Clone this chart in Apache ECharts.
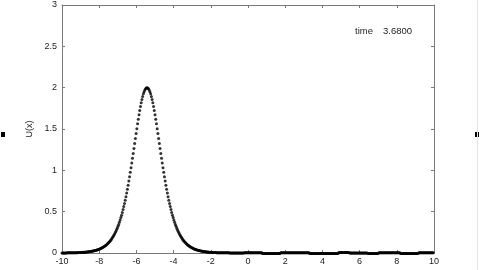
<!DOCTYPE html>
<html>
<head>
<meta charset="utf-8">
<script src="https://cdn.jsdelivr.net/npm/echarts@6/dist/echarts.min.js"></script>
<style>
html,body{margin:0;padding:0;background:#fff;}
#c{width:480px;height:270px;}
</style>
</head>
<body>
<div id="c"></div>
<script>
// x grid: 512 samples from -10 (step 20/512), like MATLAB linspace output
const xStart = -10;
const xStep = 20 / 512;

// values: left tail + rising flank
const leftFlank = [
0.001,0.001,0.001,0.001,0.001,0.001,0.001,
0.002,0.002,0.002,0.002,0.002,0.002,0.002,
0.003,0.003,0.003,0.003,0.003,
0.004,0.004,0.004,
0.005,0.005,
0.006,0.006,
0.007,0.007,
0.008,0.008,
0.009,
0.010,0.010,
0.011,0.012,0.013,0.014,0.015,0.017,0.018,0.019,0.021,0.023,
0.025,0.027,0.029,0.031,0.033,0.036,0.039,0.042,0.046,0.049,
0.053,0.057,0.062,0.067,0.072,0.078,0.084,0.091,0.098,0.106,
0.114,0.123,0.133,0.143,0.155,0.167,0.180,0.193,0.208,0.224,
0.241,0.260,0.279,0.300,0.323,0.346,0.372,0.399,0.428,0.458,
0.490,0.525,0.561,0.599,0.639,0.681,0.726,0.772,0.820,0.870,
0.922,0.976,1.031,1.088,1.146,1.205,1.265,1.325,1.385,1.445,
1.504,1.562,1.618,1.672,1.723,1.772,1.817,1.858,1.894,1.926,
1.952,1.973,1.988,1.997
];
const peak = [2.000];
const rightFlank = [
1.997,1.988,1.973,1.952,1.926,1.894,1.858,1.817,1.772,1.723,
1.672,1.618,1.562,1.504,1.445,1.385,1.325,1.265,1.205,1.146,
1.088,1.031,0.976,0.922,0.870,0.820,0.772,0.726,0.681,0.639,
0.599,0.561,0.525,0.490,0.458,0.428,0.399,0.372,0.346,0.323,
0.300,0.279,0.260,0.241,0.224,0.208,0.193,0.180,0.167,0.155,
0.143,0.133,0.123,0.114,0.106,0.098,0.091,0.084,0.078,0.072,
0.067,0.062,0.057,0.053,0.049,0.046,0.042,0.039,0.036,0.033,
0.031,0.029,0.027,0.025,0.023,0.021,0.019,0.018,0.017,0.015,
0.014,0.013,0.012,0.011,0.010,0.010,0.009,0.008,0.008,0.007,
0.007,0.006,0.006,0.005,0.005,0.004,0.004,0.004,0.003,0.003
];
// small ripple along the baseline to the right
const rightTail = [
0.002,0.002,0.002,0.002,0.002,0.002,0.002,0.002,0.002,0.002,0.002,0.002,0.002,
0.001,0.001,0.001,0.001,0.001,0.001,0.001,0.001,0.001,0.001,
0.001,0.001,0.001,0.001,0.001,0.001,0.001,0.001,0.001,0.001,
0.002,0.002,0.002,0.002,0.002,0.002,0.002,0.002,0.002,0.002,0.002,0.002,0.002,
0.002,0.002,0.002,0.002,0.002,0.002,0.002,0.002,0.002,0.002,0.002,0.002,
-0.006,-0.006,-0.006,-0.006,-0.006,-0.006,-0.006,-0.006,-0.006,-0.006,-0.006,-0.006,-0.006,
-0.006,-0.006,-0.006,-0.006,-0.006,-0.006,-0.006,-0.006,-0.006,-0.006,-0.006,-0.006,
0.003,0.003,0.003,0.003,0.003,0.003,0.003,0.003,0.003,0.003,
0.003,0.003,0.003,0.003,0.003,0.003,0.003,0.003,0.003,0.003,
0.003,0.003,0.003,0.003,0.003,0.003,0.003,0.003,0.003,0.003,
0.003,0.003,0.003,0.003,0.003,0.003,0.003,0.003,0.003,0.003,
-0.005,-0.005,-0.005,-0.005,-0.005,-0.005,-0.005,-0.005,-0.005,-0.005,
-0.005,-0.005,-0.005,-0.005,-0.005,-0.005,-0.005,-0.005,-0.005,-0.005,
-0.005,-0.005,-0.005,-0.005,-0.005,-0.005,-0.005,-0.005,-0.005,-0.005,
-0.005,-0.005,-0.005,-0.005,-0.005,-0.005,-0.005,-0.005,-0.005,-0.005,
0.005,0.005,0.005,0.005,0.005,0.005,0.005,0.005,0.005,0.005,0.005,0.005,0.005,0.005,0.005,
0.001,0.001,0.001,0.001,0.001,0.001,0.001,0.001,0.001,0.001,0.001,0.001,0.001,
0.001,0.001,0.001,0.001,0.001,0.001,0.001,0.001,0.001,0.001,0.001,0.001,
-0.006,-0.006,-0.006,-0.006,-0.006,-0.006,-0.006,-0.006,-0.006,-0.006,-0.006,-0.006,-0.006,-0.006,-0.006,
0.003,0.003,0.003,0.003,0.003,0.003,0.003,0.003,0.003,0.003,
0.003,0.003,0.003,0.003,0.003,0.003,0.003,0.003,0.003,0.003,
0.003,0.003,0.003,0.003,0.003,0.003,0.003,0.003,0.003,0.003,
-0.005,-0.005,-0.005,-0.005,-0.005,-0.005,-0.005,-0.005,-0.005,-0.005,-0.005,-0.005,-0.005,
-0.005,-0.005,-0.005,-0.005,-0.005,-0.005,-0.005,-0.005,-0.005,-0.005,-0.005,-0.005,
0.003,0.003,0.003,0.003,0.003,0.003,0.003,0.003,0.003,0.003,0.003,
0.003,0.003,0.003,0.003,0.003,0.003,0.003,0.003,0.003,0.003
];

const xTicks = [-10,-8,-6,-4,-2,0,2,4,6,8,10];
const yTicks = [0,0.5,1,1.5,2,2.5,3];
const timeLabel = 'time';
const timeValue = '3.6800';
const yName = 'U(x)';

const uValues = leftFlank.concat(peak, rightFlank, rightTail);
const points = uValues.map((u, i) => [xStart + i * xStep, u]);

const chart = echarts.init(document.getElementById('c'), null, {renderer: 'canvas'});
const axisColor = '#7a7a7a';
const fontFam = 'Liberation Sans, Arial, sans-serif';
const labelFont = {color: '#222', fontSize: 9, fontFamily: fontFam};

chart.setOption({
  animation: false,
  backgroundColor: '#fff',
  grid: {left: 62, right: 46, top: 5, bottom: 17, containLabel: false},
  xAxis: [
    {type: 'value', min: -10, max: 10, interval: 2, position: 'bottom',
     axisLine: {show: true, onZero: false, lineStyle: {color: axisColor, width: 1}},
     axisTick: {show: true, inside: true, length: 3, lineStyle: {color: axisColor}},
     axisLabel: Object.assign({margin: 4, formatter: v => xTicks.includes(v) ? String(v) : ''}, labelFont),
     splitLine: {show: false}},
    {type: 'value', min: -10, max: 10, interval: 2, position: 'top',
     axisLine: {show: true, onZero: false, lineStyle: {color: axisColor, width: 1}},
     axisTick: {show: true, inside: true, length: 3, lineStyle: {color: axisColor}},
     axisLabel: {show: false}, splitLine: {show: false}}
  ],
  yAxis: [
    {type: 'value', min: 0, max: 3, interval: 0.5, position: 'left',
     name: yName, nameLocation: 'middle', nameGap: 14, nameRotate: 90,
     nameTextStyle: Object.assign({}, labelFont),
     axisLine: {show: true, onZero: false, lineStyle: {color: axisColor, width: 1}},
     axisTick: {show: true, inside: true, length: 3, lineStyle: {color: axisColor}},
     axisLabel: Object.assign({margin: 5, formatter: v => yTicks.includes(v) ? String(v) : ''}, labelFont),
     splitLine: {show: false}},
    {type: 'value', min: 0, max: 3, interval: 0.5, position: 'right',
     axisLine: {show: true, onZero: false, lineStyle: {color: axisColor, width: 1}},
     axisTick: {show: true, inside: true, length: 3, lineStyle: {color: axisColor}},
     axisLabel: {show: false}, splitLine: {show: false}}
  ],
  series: [{
    type: 'scatter',
    xAxisIndex: 0, yAxisIndex: 0,
    data: points,
    symbol: 'circle',
    symbolSize: 3,
    clip: false,
    itemStyle: {color: '#000'},
    silent: true
  }],
  graphic: [
    {type: 'text', left: 355, top: 26, style: {text: timeLabel, fill: '#222', fontSize: 9.5, fontFamily: fontFam}},
    {type: 'text', left: 383, top: 26, style: {text: timeValue, fill: '#222', fontSize: 9.5, fontFamily: fontFam}},
    {type: 'rect', shape: {x: 1, y: 132, width: 4, height: 5}, style: {fill: '#000'}},
    {type: 'rect', shape: {x: 475, y: 132, width: 4, height: 5}, style: {fill: '#000'}},
    {type: 'line', shape: {x1: 477.5, y1: 0, x2: 477.5, y2: 270}, style: {stroke: '#e4e4e4', lineWidth: 1}}
  ]
});
</script>
</body>
</html>
